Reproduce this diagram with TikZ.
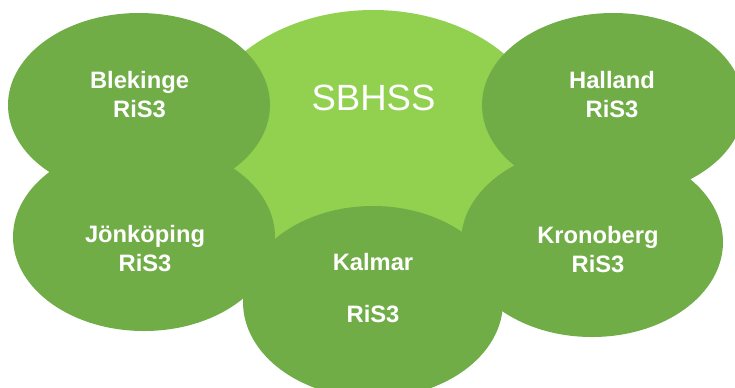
\documentclass[tikz,border=0pt]{standalone}
\usepackage{fontspec}
\setmainfont{Liberation Sans}
\definecolor{verdeclaro}{HTML}{92D050}
\definecolor{verdeescuro}{HTML}{70AD47}
\begin{document}
\begin{tikzpicture}[x=0.75pt,y=-0.75pt,
		rotulo/.style={text=white,align=center,inner sep=0pt,font=\bfseries\fontsize{17.8}{21.75}\selectfont}]
		\useasboundingbox (0,0) rectangle (735,387);
		\fill[verdeclaro] (373,140) ellipse (175 and 130);			% Conjunto central
		\fill[verdeescuro] (139,105) ellipse (131 and 92);			% Blekinge
		\fill[verdeescuro] (613,105) ellipse (131 and 92);			% Halland
		\fill[verdeescuro] (144,237) ellipse (131 and 94);			% Jönköping
		\fill[verdeescuro] (592,242) ellipse (131 and 95);			% Kronoberg
		\fill[verdeescuro] (373,302) ellipse (130 and 96);			% Kalmar
		
		% Rótulos
		\node[text=white,inner sep=0pt,anchor=base,font=\fontsize{27.4}{33}\selectfont] (sbhss) at (373.5,110) {SBHSS};
		\node[rotulo] (blekinge) at (139.5,95) {Blekinge\\RiS3};
		\node[rotulo] (halland) at (612,95) {Halland\\RiS3};
		\node[rotulo] (jonkoping) at (145,249) {Jönköping\\RiS3};
		\node[rotulo] (kronoberg) at (598,249.5) {Kronoberg\\RiS3};
		\node[rotulo] (kalmar) at (373,288) {Kalmar\\[17.25pt]RiS3};
	\end{tikzpicture}
\end{document}
